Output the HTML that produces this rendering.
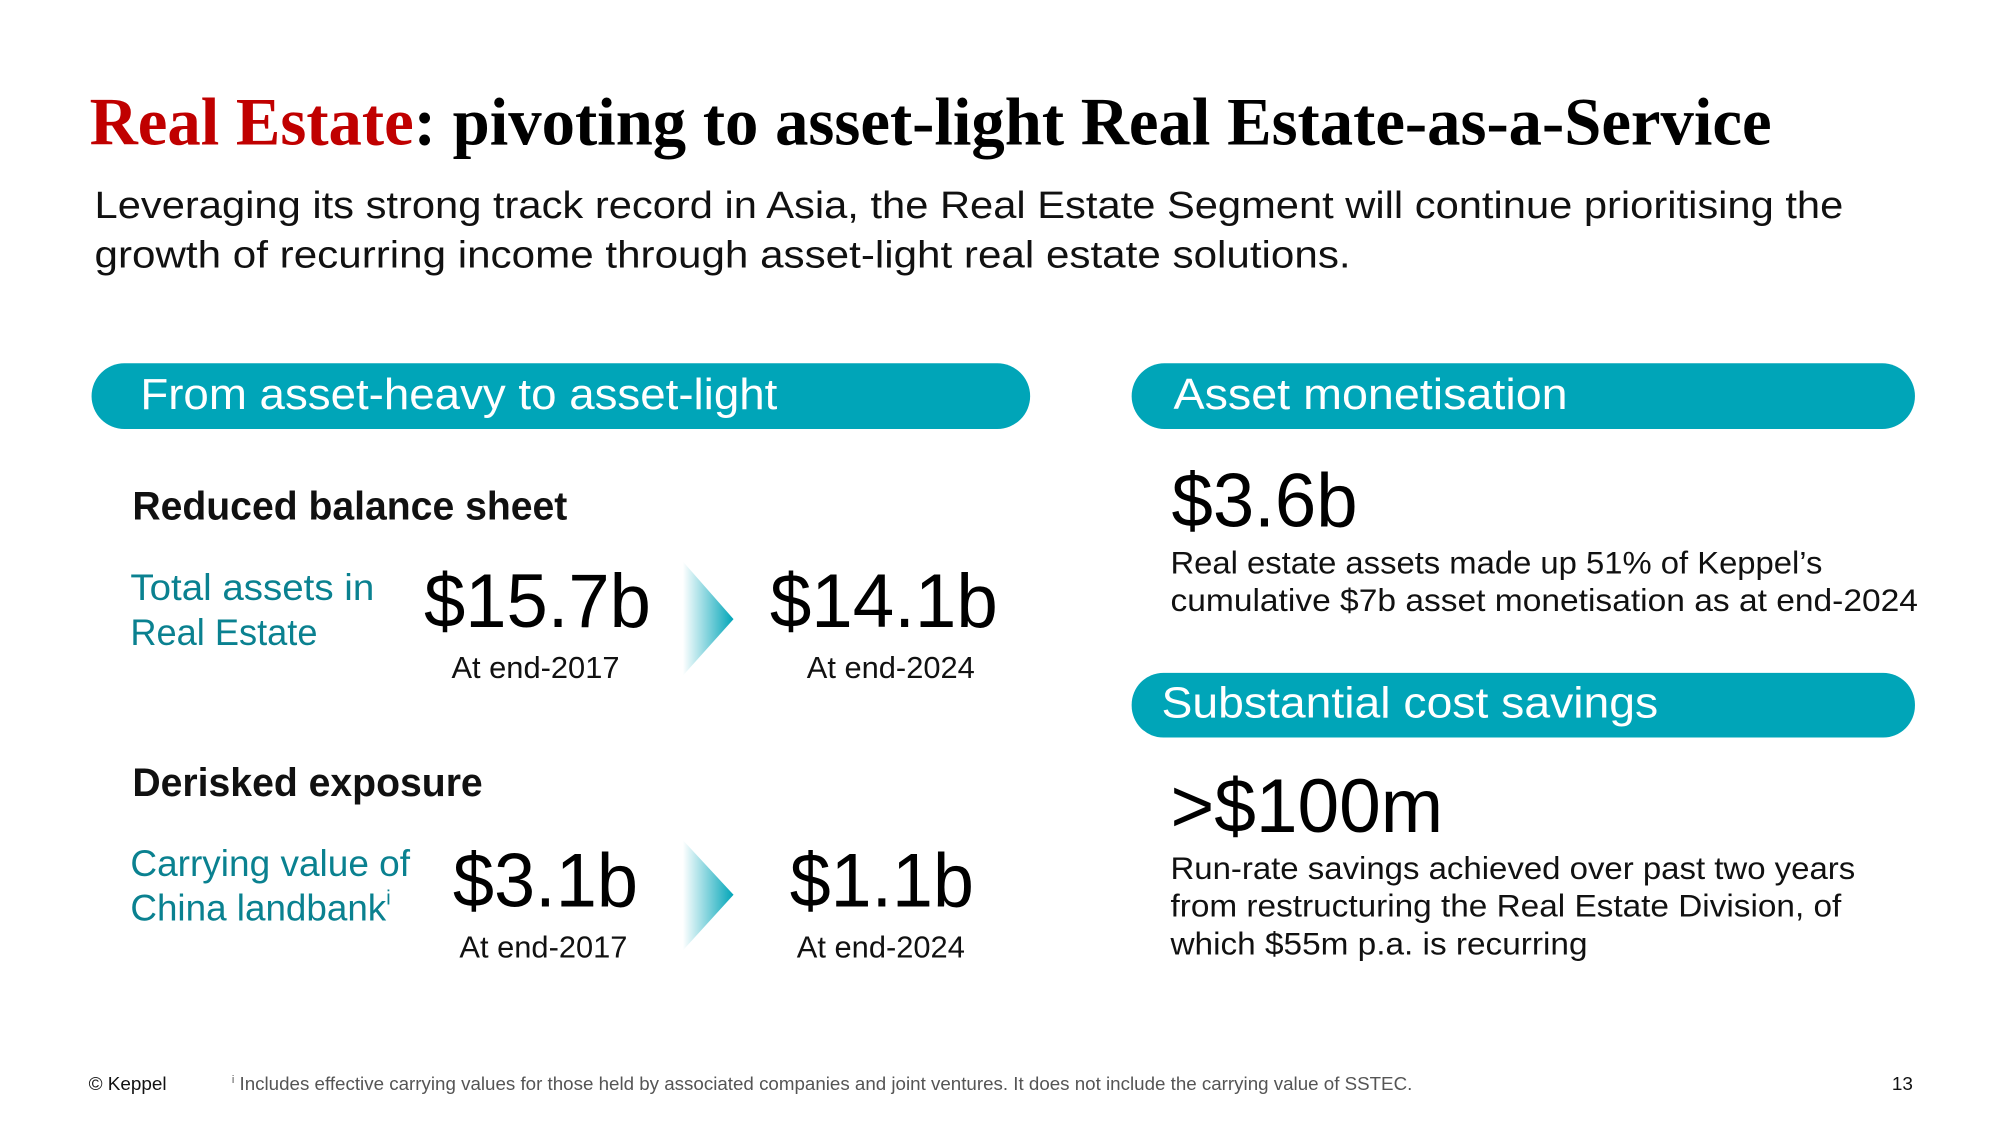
<!DOCTYPE html>
<html><head><meta charset="utf-8"><style>
html,body{margin:0;padding:0;background:#fff;}
svg{display:block;}
text{font-family:"Liberation Sans",sans-serif;}
.serif{font-family:"Liberation Serif",serif;font-weight:bold;}
</style></head><body>
<svg width="2000" height="1125" viewBox="0 0 2000 1125">
<defs>
<linearGradient id="ag" x1="0" x2="1" y1="0" y2="0">
<stop offset="0" stop-color="#00a5b8" stop-opacity="0"/>
<stop offset="1" stop-color="#00a5b8" stop-opacity="1"/>
</linearGradient>
</defs>
<g transform="scale(0.9953)">
<text class="serif" x="90" y="145" font-size="68" textLength="1690" lengthAdjust="spacingAndGlyphs"><tspan fill="#c00000">Real Estate</tspan><tspan fill="#000">: pivoting to asset-light Real Estate-as-a-Service</tspan></text>
<text x="95" y="219" font-size="38" fill="#111" textLength="1757" lengthAdjust="spacingAndGlyphs">Leveraging its strong track record in Asia, the Real Estate Segment will continue prioritising the</text>
<text x="95" y="269" font-size="38" fill="#111" textLength="1262" lengthAdjust="spacingAndGlyphs">growth of recurring income through asset-light real estate solutions.</text>

<rect x="92" y="365" width="943" height="66" rx="33" fill="#00a5b8"/>
<text x="141" y="411" font-size="44" fill="#fff" textLength="640" lengthAdjust="spacingAndGlyphs">From asset-heavy to asset-light</text>
<rect x="1137" y="365" width="787" height="66" rx="33" fill="#00a5b8"/>
<text x="1179" y="411" font-size="44" fill="#fff" textLength="396" lengthAdjust="spacingAndGlyphs">Asset monetisation</text>
<rect x="1137" y="676" width="787" height="65" rx="32" fill="#00a5b8"/>
<text x="1167" y="721" font-size="44" fill="#fff" textLength="499" lengthAdjust="spacingAndGlyphs">Substantial cost savings</text>

<text x="133" y="522" font-size="40" font-weight="bold" fill="#111" textLength="437" lengthAdjust="spacingAndGlyphs">Reduced balance sheet</text>
<text x="131" y="603" font-size="37" fill="#0a8190" textLength="245" lengthAdjust="spacingAndGlyphs">Total assets in</text>
<text x="131" y="648" font-size="37" fill="#0a8190" textLength="188" lengthAdjust="spacingAndGlyphs">Real Estate</text>
<text x="540" y="630" font-size="76" fill="#000" text-anchor="middle" textLength="228" lengthAdjust="spacingAndGlyphs">$15.7b</text>
<text x="538" y="681" font-size="31" fill="#111" text-anchor="middle">At end-2017</text>
<polygon points="686,564 737,622 686,679" fill="url(#ag)"/>
<text x="888" y="630" font-size="76" fill="#000" text-anchor="middle" textLength="229" lengthAdjust="spacingAndGlyphs">$14.1b</text>
<text x="895" y="681" font-size="31" fill="#111" text-anchor="middle">At end-2024</text>

<text x="133" y="800" font-size="40" font-weight="bold" fill="#111" textLength="352" lengthAdjust="spacingAndGlyphs">Derisked exposure</text>
<text x="131" y="880" font-size="37" fill="#0a8190" textLength="281" lengthAdjust="spacingAndGlyphs">Carrying value of</text>
<text x="131" y="925" font-size="37" fill="#0a8190">China landbank<tspan font-size="20" dy="-16">i</tspan></text>
<text x="548" y="911" font-size="76" fill="#000" text-anchor="middle" textLength="186" lengthAdjust="spacingAndGlyphs">$3.1b</text>
<text x="546" y="962" font-size="31" fill="#111" text-anchor="middle">At end-2017</text>
<polygon points="686,844 737,899 686,955" fill="url(#ag)"/>
<text x="886" y="911" font-size="76" fill="#000" text-anchor="middle" textLength="185" lengthAdjust="spacingAndGlyphs">$1.1b</text>
<text x="885" y="962" font-size="31" fill="#111" text-anchor="middle">At end-2024</text>

<text x="1177" y="529" font-size="76" fill="#000" textLength="187" lengthAdjust="spacingAndGlyphs">$3.6b</text>
<text x="1176" y="576" font-size="32" fill="#111" textLength="655" lengthAdjust="spacingAndGlyphs">Real estate assets made up 51% of Keppel’s</text>
<text x="1176" y="614" font-size="32" fill="#111" textLength="751" lengthAdjust="spacingAndGlyphs">cumulative $7b asset monetisation as at end-2024</text>

<text x="1176" y="836" font-size="76" fill="#000" textLength="274" lengthAdjust="spacingAndGlyphs">&gt;$100m</text>
<text x="1176" y="883" font-size="32" fill="#111" textLength="688" lengthAdjust="spacingAndGlyphs">Run-rate savings achieved over past two years</text>
<text x="1176" y="921" font-size="32" fill="#111" textLength="674" lengthAdjust="spacingAndGlyphs">from restructuring the Real Estate Division, of</text>
<text x="1176" y="959" font-size="32" fill="#111" textLength="419" lengthAdjust="spacingAndGlyphs">which $55m p.a. is recurring</text>

<text x="89" y="1095" font-size="19" fill="#111">© Keppel</text>
<text x="233" y="1095" font-size="19" fill="#555" textLength="1186" lengthAdjust="spacingAndGlyphs"><tspan font-size="11" dy="-7">i</tspan><tspan dy="7"> Includes effective carrying values for those held by associated companies and joint ventures. It does not include the carrying value of SSTEC.</tspan></text>
<text x="1922" y="1095" font-size="19" fill="#111" text-anchor="end">13</text>
</g>
</svg>
</body></html>
